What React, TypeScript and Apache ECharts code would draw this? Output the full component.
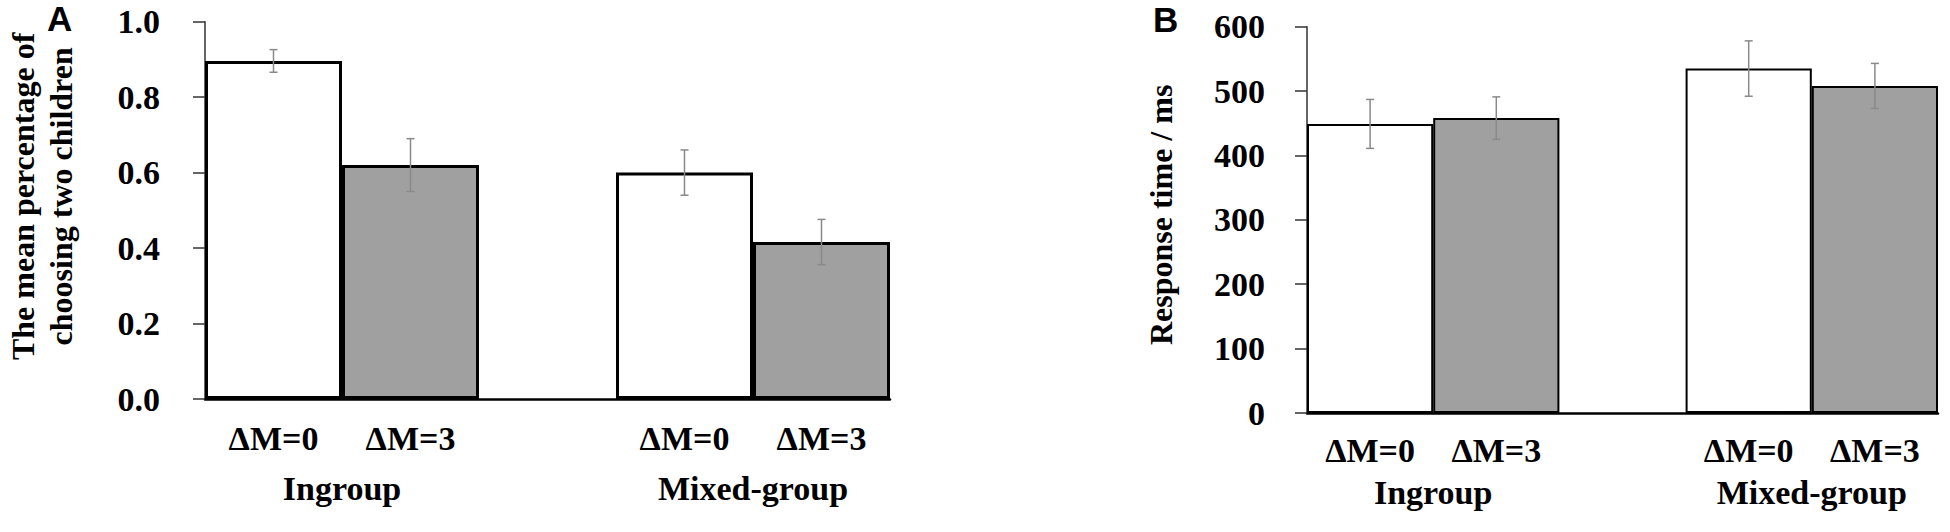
import React, { useEffect, useRef } from "react";
import * as echarts from "echarts";

// ---- data ----
const groups = ["Ingroup", "Mixed-group"];
const conditions = ["ΔM=0", "ΔM=3"];
// order: Ingroup ΔM=0, Ingroup ΔM=3, Mixed ΔM=0, Mixed ΔM=3
const choiceMeans = [0.896, 0.62, 0.6, 0.416];
const choiceErrors = [0.03, 0.07, 0.06, 0.06];
const rtMeans = [449, 458, 535, 508];
const rtErrors = [38, 33, 43, 35];
const choiceTicks = { min: 0, max: 1, interval: 0.2 };
const rtTicks = { min: 0, max: 600, interval: 100 };
const conditionColors = ["#ffffff", "#a0a0a0"];

const SERIF = "'Liberation Serif', 'Times New Roman', serif";
const SANS = "'Liberation Sans', Arial, sans-serif";

// slots: group conditions, with an empty slot between groups
const slotKeys: string[] = [];
const slotIndexOfBar: number[] = [];
groups.forEach((g, gi) => {
  if (gi > 0) slotKeys.push("gap|");
  conditions.forEach((c) => {
    slotIndexOfBar.push(slotKeys.length);
    slotKeys.push(g + "|" + c);
  });
});
const groupCenters = groups.map((_, gi) => gi * (conditions.length + 1) + conditions.length / 2);

function barData(means: number[]) {
  const arr: any[] = slotKeys.map(() => "-");
  means.forEach((m, i) => {
    arr[slotIndexOfBar[i]] = {
      value: m,
      itemStyle: { color: conditionColors[i % conditions.length] },
    };
  });
  return arr;
}
function errData(means: number[], errs: number[]) {
  return means.map((m, i) => [slotIndexOfBar[i], m - errs[i], m + errs[i]]);
}

const errRender = (params: any, api: any) => {
  const x = api.value(0);
  const lo = api.value(1);
  const hi = api.value(2);
  const p1 = api.coord([x, hi]);
  const p2 = api.coord([x, lo]);
  const cap = 4;
  const style = { stroke: "#8a8a8a", lineWidth: 1.5 };
  return {
    type: "group",
    children: [
      { type: "line", shape: { x1: p1[0], y1: p1[1], x2: p2[0], y2: p2[1] }, style },
      { type: "line", shape: { x1: p1[0] - cap, y1: p1[1], x2: p1[0] + cap, y2: p1[1] }, style },
      { type: "line", shape: { x1: p2[0] - cap, y1: p2[1], x2: p2[0] + cap, y2: p2[1] }, style },
    ],
  };
};

function catAxis(gridIndex: number, margin: number, lineWidth: number) {
  return {
    gridIndex,
    type: "category",
    data: slotKeys,
    boundaryGap: true,
    axisLine: { show: true, lineStyle: { color: "#000", width: lineWidth } },
    axisTick: { show: false },
    splitLine: { show: false },
    axisLabel: {
      interval: 0,
      margin,
      fontFamily: SERIF,
      fontWeight: "bold",
      fontSize: 34,
      color: "#000",
      formatter: (v: string) => v.split("|")[1],
    },
  };
}
function groupAxis(gridIndex: number, margin: number) {
  return {
    gridIndex,
    type: "value",
    position: "bottom",
    min: 0,
    max: slotKeys.length,
    interval: 0.5,
    axisLine: { show: false },
    axisTick: { show: false },
    splitLine: { show: false },
    axisLabel: {
      margin,
      fontFamily: SERIF,
      fontWeight: "bold",
      fontSize: 34,
      color: "#000",
      showMinLabel: true,
      showMaxLabel: true,
      formatter: (v: number) => {
        const gi = groupCenters.findIndex((c) => Math.abs(c - v) < 1e-6);
        return gi >= 0 ? groups[gi] : "";
      },
    },
  };
}
function valAxis(
  gridIndex: number,
  ticks: { min: number; max: number; interval: number },
  name: string,
  nameGap: number,
  namePadShift: number,
  labelMargin: number,
  decimals: number
) {
  return {
    gridIndex,
    type: "value",
    min: ticks.min,
    max: ticks.max,
    interval: ticks.interval,
    name,
    nameLocation: "middle",
    nameRotate: 90,
    nameGap,
    nameTextStyle: {
      fontFamily: SERIF,
      fontWeight: "bold",
      fontSize: 32,
      lineHeight: 38,
      color: "#000",
      padding: [0, 0, 0, namePadShift],
    },
    axisLine: { show: true, lineStyle: { color: "#333", width: 1.5 } },
    axisTick: { show: true, inside: false, length: 12, lineStyle: { color: "#333", width: 1.5 } },
    splitLine: { show: false },
    axisLabel: {
      margin: labelMargin,
      fontFamily: SERIF,
      fontWeight: "bold",
      fontSize: 34,
      color: "#000",
      formatter: (v: number) => v.toFixed(decimals),
    },
  };
}

export default function App() {
  const ref = useRef<HTMLDivElement>(null);
  useEffect(() => {
    if (!ref.current) return;
    const chart = echarts.init(ref.current, null, { renderer: "svg" });
    const option: any = {
      animation: false,
      backgroundColor: "#fff",
      grid: [
        { left: 205, top: 21.7, width: 685, height: 377.3 },
        { left: 1307, top: 26.7, width: 631, height: 386.3 },
      ],
      xAxis: [catAxis(0, 22, 2.5), groupAxis(0, 72), catAxis(1, 20, 2.5), groupAxis(1, 62)],
      yAxis: [
        valAxis(0, choiceTicks, "The mean percentage of\nchoosing two children", 125, 28, 45, 1),
        valAxis(1, rtTicks, "Response time / ms", 127, 10, 42, 0),
      ],
      series: [
        {
          type: "bar",
          xAxisIndex: 0,
          yAxisIndex: 0,
          data: barData(choiceMeans),
          barWidth: "100%",
          barGap: "0%",
          itemStyle: { borderColor: "#000", borderWidth: 3 },
        },
        {
          type: "custom",
          xAxisIndex: 0,
          yAxisIndex: 0,
          data: errData(choiceMeans, choiceErrors),
          encode: { x: 0, y: [1, 2] },
          renderItem: errRender,
          z: 10,
        },
        {
          type: "bar",
          xAxisIndex: 2,
          yAxisIndex: 1,
          data: barData(rtMeans),
          barWidth: "100%",
          barGap: "0%",
          itemStyle: { borderColor: "#000", borderWidth: 2 },
        },
        {
          type: "custom",
          xAxisIndex: 2,
          yAxisIndex: 1,
          data: errData(rtMeans, rtErrors),
          encode: { x: 0, y: [1, 2] },
          renderItem: errRender,
          z: 10,
        },
      ],
      graphic: [
        {
          type: "text",
          left: 47,
          top: 1,
          style: { text: "A", fontFamily: SANS, fontWeight: "bold", fontSize: 35, fill: "#000" },
        },
        {
          type: "text",
          left: 1153,
          top: 2,
          style: { text: "B", fontFamily: SANS, fontWeight: "bold", fontSize: 35, fill: "#000" },
        },
      ],
    };
    chart.setOption(option);
    return () => chart.dispose();
  }, []);
  return (
    <div
      ref={ref}
      style={{ position: "fixed", left: 0, top: 0, width: 1950, height: 532, background: "#fff" }}
    />
  );
}
